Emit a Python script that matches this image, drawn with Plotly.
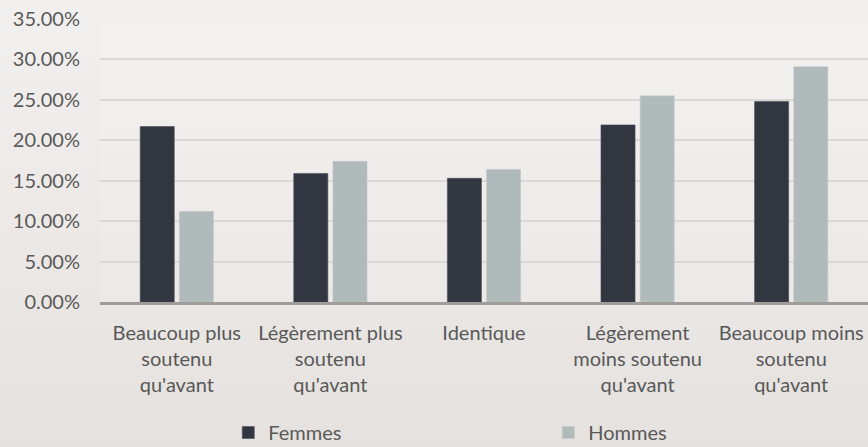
import plotly.graph_objects as go

categories = ["Beaucoup plus<br>soutenu<br>qu'avant",
              "Légèrement plus<br>soutenu<br>qu'avant",
              "Identique",
              "Légèrement<br>moins soutenu<br>qu'avant",
              "Beaucoup moins<br>soutenu<br>qu'avant"]
femmes = [0.217, 0.159, 0.153, 0.219, 0.248]
hommes = [0.112, 0.174, 0.164, 0.255, 0.291]
y_ticks = [0, 0.05, 0.10, 0.15, 0.20, 0.25, 0.30, 0.35]

FONT = "Lato"
TXT = "#595959"

fig = go.Figure()
fig.add_trace(go.Bar(name="Femmes", x=categories, y=femmes,
                     marker=dict(color="#323641", line=dict(color="#4a4f5a", width=0.6))))
fig.add_trace(go.Bar(name="Hommes", x=categories, y=hommes,
                     marker=dict(color="#b0babb", line=dict(color="#c2cacb", width=0.6))))

# figure is slightly taller than the window; the extra strip below holds only legend padding
fig.update_layout(
    width=868, height=452,
    margin=dict(l=100, r=0, t=19, b=150),
    paper_bgcolor="rgba(0,0,0,0)",
    plot_bgcolor="rgba(255,255,255,0.12)",
    barmode="group",
    bargap=0.49,
    bargroupgap=0.13,
    font=dict(family=FONT, size=20, color=TXT),
    showlegend=True,
    legend=dict(orientation="h", xref="container", x=0.263, xanchor="left",
                yref="container", y=0.0, yanchor="bottom",
                entrywidth=275, entrywidthmode="pixels",
                font=dict(family=FONT, size=20, color=TXT),
                bgcolor="rgba(0,0,0,0)"),
)
fig.update_yaxes(range=[0, 0.35], tickvals=y_ticks, tickformat=".2%",
                 showgrid=True, gridcolor="#d9d8d5", gridwidth=1.5,
                 zeroline=False, showline=False,
                 ticks="outside", ticklen=15, tickcolor="rgba(0,0,0,0)",
                 tickfont=dict(family=FONT, size=20, color=TXT))
fig.update_xaxes(showline=True, linecolor="#9f9c99", linewidth=3,
                 ticks="outside", ticklen=11, tickcolor="rgba(0,0,0,0)",
                 tickfont=dict(family=FONT, size=20, color=TXT),
                 tickangle=0)

fig.write_html(
    "out.html",
    config={"displayModeBar": False},
    post_script="document.body.style.margin='0';document.body.style.overflow='hidden';"
                "document.body.style.background='linear-gradient(#f2f0ef, #e5e1de)';"
                "document.body.style.minHeight='447px';",
)
